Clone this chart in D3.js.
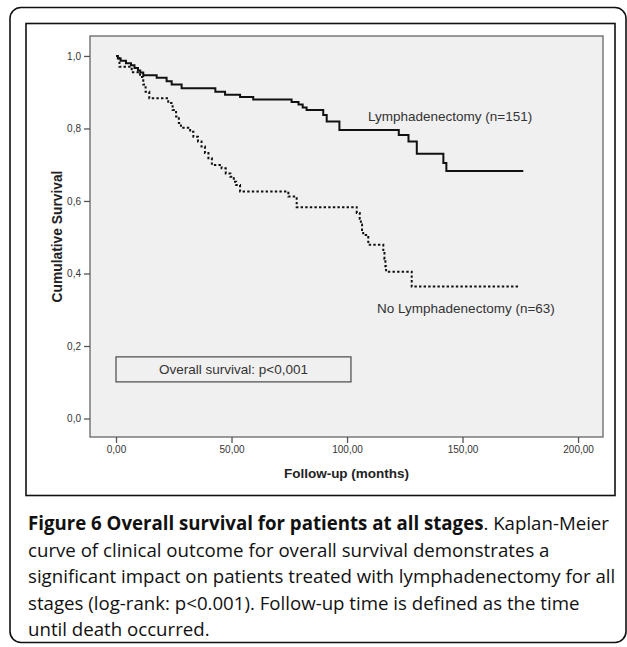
<!DOCTYPE html>
<html>
<head>
<meta charset="utf-8">
<script src="https://cdn.jsdelivr.net/npm/d3@7"></script>
<style>
  html, body { margin: 0; padding: 0; background: #fff; }
  svg { display: block; }
</style>
</head>
<body>
<svg id="chart" width="627" height="647"></svg>
<script>
// ---------- data ----------
const lymphTime = [0, 0.8, 2, 4.3, 6.5, 8, 9.5, 10.5, 11.8, 17.6, 21.9, 24.1, 28.4, 43, 47.2, 53.7, 59.4, 76, 79, 80.8, 82.5, 89.7, 91.2, 96.7, 122.4, 126.6, 130.2, 141.7, 143, 176.3];
const lymphSurv = [1.0, 0.993, 0.987, 0.980, 0.974, 0.967, 0.960, 0.954, 0.947, 0.940, 0.930, 0.921, 0.911, 0.901, 0.893, 0.887, 0.880, 0.873, 0.866, 0.858, 0.851, 0.837, 0.819, 0.796, 0.782, 0.764, 0.730, 0.705, 0.683, 0.683];

const noLymphTime = [0, 1.5, 6.8, 10.4, 11.8, 12.8, 14.4, 22.6, 24.5, 26, 27.2, 28.1, 32.1, 33.5, 35.5, 37, 38.5, 40, 41.5, 45.7, 47.5, 49.5, 51, 52, 53.7, 74.6, 78.2, 104.2, 105.5, 106, 106.5, 107, 109.2, 115.7, 116.2, 116.6, 116.9, 128, 174.2];
const noLymphSurv = [1.0, 0.970, 0.955, 0.942, 0.921, 0.901, 0.883, 0.870, 0.851, 0.833, 0.815, 0.802, 0.791, 0.777, 0.764, 0.750, 0.732, 0.718, 0.699, 0.690, 0.676, 0.667, 0.653, 0.644, 0.626, 0.612, 0.583, 0.567, 0.551, 0.535, 0.520, 0.506, 0.479, 0.460, 0.440, 0.420, 0.405, 0.364, 0.364];

const xTicks = [0, 50, 100, 150, 200];
const xTickLabels = ["0,00", "50,00", "100,00", "150,00", "200,00"];
const yTicks = [0, 0.2, 0.4, 0.6, 0.8, 1.0];
const yTickLabels = ["0,0", "0,2", "0,4", "0,6", "0,8", "1,0"];

const seriesNames = ["Lymphadenectomy (n=151)", "No Lymphadenectomy (n=63)"];
const pText = "Overall survival: p<0,001";
const xTitle = "Follow-up (months)";
const yTitle = "Cumulative Survival";

const captionBold = "Figure 6 Overall survival for patients at all stages";
const captionLines = [
  ". Kaplan-Meier",
  "curve of clinical outcome for overall survival demonstrates a",
  "significant impact on patients treated with lymphadenectomy for all",
  "stages (log-rank: p<0.001). Follow-up time is defined as the time",
  "until death occurred."
];

// ---------- layout ----------
const svg = d3.select("#chart");
const plot = { left: 90, right: 603, top: 36, bottom: 437 };
const x = d3.scaleLinear().domain([-11.26, 210.8]).range([plot.left, plot.right]);
const y = d3.scaleLinear().domain([-0.051, 1.055]).range([plot.bottom, plot.top]);

// outer rounded border
svg.append("rect")
  .attr("x", 10).attr("y", 7.5).attr("width", 616).attr("height", 635)
  .attr("rx", 11).attr("ry", 11)
  .attr("fill", "none").attr("stroke", "#111").attr("stroke-width", 1.6);

// inner chart frame
svg.append("rect")
  .attr("x", 26).attr("y", 23.5).attr("width", 589).attr("height", 472)
  .attr("fill", "#fff").attr("stroke", "#111").attr("stroke-width", 1.6);

// plot background
svg.append("rect")
  .attr("x", plot.left).attr("y", plot.top)
  .attr("width", plot.right - plot.left).attr("height", plot.bottom - plot.top)
  .attr("fill", "#f0f0f0").attr("stroke", "#666").attr("stroke-width", 1.3);

const fontChart = "'Liberation Sans', Arial, sans-serif";

// axes
const xAxis = d3.axisBottom(x).tickValues(xTicks)
  .tickFormat((d, i) => xTickLabels[i]).tickSize(6).tickPadding(3).tickSizeOuter(0);
const yAxis = d3.axisLeft(y).tickValues(yTicks)
  .tickFormat((d, i) => yTickLabels[i]).tickSize(6).tickPadding(3).tickSizeOuter(0);

const gx = svg.append("g").attr("transform", `translate(0,${plot.bottom})`).call(xAxis);
const gy = svg.append("g").attr("transform", `translate(${plot.left},0)`).call(yAxis);
[gx, gy].forEach(g => {
  g.select(".domain").remove();
  g.selectAll(".tick line").attr("stroke", "#555").attr("stroke-width", 1.3);
  g.selectAll(".tick text").attr("fill", "#333")
    .style("font-family", fontChart).style("font-size", "10px");
});

// axis titles
svg.append("text")
  .attr("x", (plot.left + plot.right) / 2).attr("y", 478)
  .attr("text-anchor", "middle")
  .style("font-family", fontChart).style("font-size", "13.5px").style("font-weight", "bold")
  .attr("fill", "#222").text(xTitle);

svg.append("text")
  .attr("transform", `translate(62,${(plot.top + plot.bottom) / 2}) rotate(-90)`)
  .attr("text-anchor", "middle")
  .style("font-family", fontChart).style("font-size", "13.8px").style("font-weight", "bold")
  .attr("fill", "#222").text(yTitle);

// curves
const line = d3.line().x(d => x(d[0])).y(d => y(d[1])).curve(d3.curveStepAfter);
const lymph = lymphTime.map((t, i) => [t, lymphSurv[i]]);
const noLymph = noLymphTime.map((t, i) => [t, noLymphSurv[i]]);

svg.append("path").datum(noLymph).attr("d", line)
  .attr("fill", "none").attr("stroke", "#111").attr("stroke-width", 2)
  .attr("stroke-dasharray", "2.4,2.2");
svg.append("path").datum(lymph).attr("d", line)
  .attr("fill", "none").attr("stroke", "#111").attr("stroke-width", 2);

// series labels
svg.append("text").attr("x", x(109.1)).attr("y", y(0.834)).attr("dy", "0.35em")
  .style("font-family", fontChart).style("font-size", "13.5px").attr("fill", "#333")
  .text(seriesNames[0]);
svg.append("text").attr("x", x(113)).attr("y", y(0.305)).attr("dy", "0.35em")
  .style("font-family", fontChart).style("font-size", "13.5px").attr("fill", "#333")
  .text(seriesNames[1]);

// p-value box
svg.append("rect")
  .attr("x", x(0)).attr("y", y(0.170))
  .attr("width", x(101.7) - x(0)).attr("height", y(0.101) - y(0.170))
  .attr("fill", "#f0f0f0").attr("stroke", "#555").attr("stroke-width", 1.3);
svg.append("text").attr("x", (x(0) + x(101.7)) / 2).attr("y", (y(0.170) + y(0.101)) / 2)
  .attr("dy", "0.35em").attr("text-anchor", "middle")
  .style("font-family", fontChart).style("font-size", "13.5px").attr("fill", "#333")
  .text(pText);

// caption
const capFont = "'Open Sans', 'Noto Sans', sans-serif";
const capX = 28;
const baselines = [530, 556.5, 583, 609.5, 636];
// fit font size so the 3rd line spans the caption width
const probe = svg.append("text").style("font-family", capFont).style("font-size", "16px").text(captionLines[2]);
const w16 = probe.node().getComputedTextLength();
probe.remove();
const capSize = 16 * 588 / w16;

const first = svg.append("text").attr("x", capX).attr("y", baselines[0])
  .style("font-family", capFont).style("font-size", capSize + "px").attr("fill", "#111");
first.append("tspan").style("font-weight", "bold").text(captionBold);
first.append("tspan").text(captionLines[0]);
for (let i = 1; i < captionLines.length; i++) {
  svg.append("text").attr("x", capX).attr("y", baselines[i])
    .style("font-family", capFont).style("font-size", capSize + "px").attr("fill", "#111")
    .text(captionLines[i]);
}
</script>
</body>
</html>
